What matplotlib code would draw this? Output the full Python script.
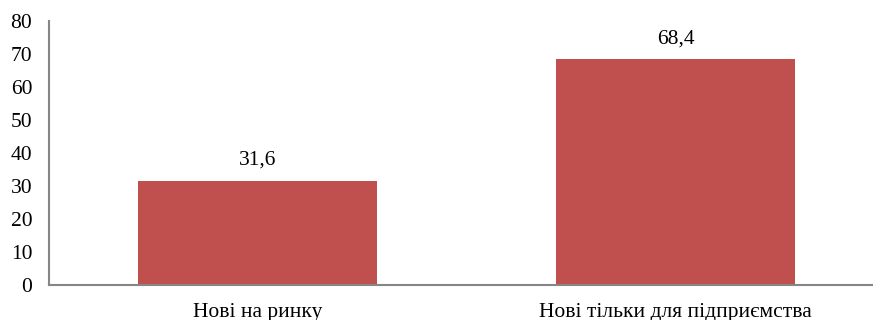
import matplotlib.pyplot as plt

categories = ["Нові на ринку", "Нові тільки для підприємства"]
values = [31.6, 68.4]
value_labels = ["31,6", "68,4"]
y_ticks = [0, 10, 20, 30, 40, 50, 60, 70, 80]

plt.rcParams['font.family'] = ['Liberation Serif', 'DejaVu Serif']

fig = plt.figure(figsize=(8.73, 3.2), dpi=100)
# right edge runs past the figure, as in the cropped original
ax = fig.add_axes([49 / 873, 1 - 285 / 320, 835.5 / 873, (285 - 21) / 320])

x = list(range(len(categories)))
bars = ax.bar(x, values, width=0.572, color="#C0504D", edgecolor="none")
ax.bar_label(bars, labels=value_labels, padding=8, fontsize=15.5)

ax.set_xlim(-0.5, 1.5)
ax.set_ylim(0, 80)
ax.set_yticks(y_ticks)
ax.set_xticks(x)
ax.set_xticklabels(categories)

ax.tick_params(axis="both", length=0, labelsize=15.5)
ax.tick_params(axis="y", pad=12)
ax.tick_params(axis="x", pad=13)

for side in ["top", "right"]:
    ax.spines[side].set_visible(False)
for side in ["left", "bottom"]:
    ax.spines[side].set_color("#868686")
    ax.spines[side].set_linewidth(1.5)

fig.savefig("out.png", dpi=100)
